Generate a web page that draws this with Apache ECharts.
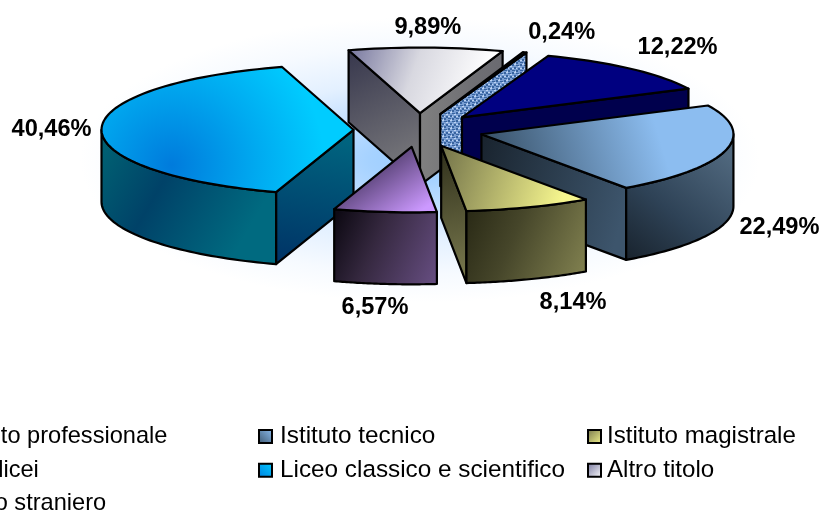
<!DOCTYPE html>
<html>
<head>
<meta charset="utf-8">
<style>html,body{margin:0;padding:0;background:#fff;overflow:hidden}#c{width:820px;height:510px}</style>
<script src="https://cdn.jsdelivr.net/npm/echarts@6/dist/echarts.min.js"></script>
</head>
<body>
<div id="c"></div>
<script>
// ---- data ----
var categories = ['Istituto professionale','Istituto tecnico','Istituto magistrale','Altri licei','Liceo classico e scientifico','Altro titolo','Titolo straniero'];
var values = [12.22, 22.49, 8.14, 6.57, 40.46, 9.89, 0.24];
var valueLabels = ['12,22%','22,49%','8,14%','6,57%','40,46%','9,89%','0,24%'];
var legendColumns = [[0,3,6],[1,4],[2,5]];
var paintOrder = [5,6,0,4,1,2,3];

// ---- pie geometry ----
var CX = 418.5, CY = 130, RX = 252, TILT = 0.26, EXPLODE = 65, DEPTH = 72, START = 20;
var RAD = Math.PI / 180;
var total = values.reduce(function (a, b) { return a + b; }, 0);
var grad = function (stops) {
  return stops.map(function (c, i) {
    return { offset: c[1] !== undefined ? c[1] : i / (stops.length - 1), color: c[0] };
  });
};
var LG = function (x0, y0, x1, y1, stops) { return new echarts.graphic.LinearGradient(x0, y0, x1, y1, grad(stops)); };
var RG = function (x, y, r, stops) { return new echarts.graphic.RadialGradient(x, y, r, grad(stops)); };
function makePattern() {
  var cv = document.createElement('canvas'); cv.width = 8; cv.height = 8;
  var g = cv.getContext('2d');
  g.fillStyle = '#7a9fd4'; g.fillRect(0, 0, 8, 8);
  g.fillStyle = '#38649f'; [[0,0,2,2],[4,1,3,1],[2,3,2,2],[6,4,2,2],[0,6,3,1],[4,6,2,2]].forEach(function (r) { g.fillRect(r[0], r[1], r[2], r[3]); });
  g.fillStyle = '#bcd3f2'; [[2,0,2,1],[6,2,2,1],[0,4,2,1],[4,4,1,1],[3,7,1,1]].forEach(function (r) { g.fillRect(r[0], r[1], r[2], r[3]); });
  return { image: cv, repeat: 'repeat' };
}
var patternFill = makePattern();

var sliceStyle = [
  { top: '#000080', cut: '#00004d', side: '#00004d', legend: '#000080', nudge: [47, -21] },
  { top: LG(0.1, 0.9, 0.7, 0.35, [['#3c566e'], ['#8cbdf0']]),
    cut: LG(0, 0.2, 1, 0.5, [['#1a2530'], ['#3d556c']]),
    side: LG(0, 1, 0.85, 0.1, [['#18222c'], ['#2e4256', .45], ['#50687e']]),
    legend: LG(0, 1, 1, 0, [['#3c566e'], ['#8cbdf0']]), nudge: [54, 77] },
  { top: LG(0, 0.1, 0.85, 0.7, [['#73734a'], ['#f6f68e']]),
    cut: LG(0, 0, 1, 1, [['#2e2e1a'], ['#7c7c50']]),
    side: LG(0, 0.2, 1, 0.8, [['#2a2a16'], ['#46462a', .4], ['#80804f']]),
    legend: LG(0, 0, 1, 1, [['#73734a'], ['#f6f68e']]), nudge: [44, 95] },
  { top: LG(0.35, 0, 0.8, 1, [['#33264a'], ['#cc99ff']]),
    cut: '#33264a',
    side: LG(0, 0.2, 1, 0.8, [['#0e0a14'], ['#35283f', .4], ['#644c7e']]),
    legend: LG(0, 0, 1, 1, [['#33264a'], ['#cc99ff']]), nudge: [-10, 96] },
  { top: RG(0.28, 0.78, 1.5, [['#007bdc'], ['#00aaf0', .45], ['#00ccff', .8], ['#00ccff']]),
    cut: LG(0.5, 0, 0.2, 1, [['#006680'], ['#003366']]),
    side: LG(0.1, 0, 0.9, 0.6, [['#005f72'], ['#004268', .4], ['#006a80']]),
    legend: LG(0, 1, 1, 0, [['#007fe0'], ['#00ccff']]), nudge: [-50, 1] },
  { top: LG(0, 0, 0.85, 0.7, [['#74749c'], ['#d8d8e0', .5], ['#ffffff']]),
    cut: LG(0, 0, 1, 1, [['#36364c'], ['#848484']]),
    cut2: LG(0, 0.5, 1, 0.5, [['#808080'], ['#707074', .6], ['#6a6a70']]),
    side: '#808080',
    legend: LG(0, 0, 1, 1, [['#74749c'], ['#ffffff']]), nudge: [2, -20] },
  { top: patternFill, cut: patternFill, side: patternFill, legend: '#7a9fd4', nudge: [37, -20] }
];

function startOf(i) {
  var s = 0; for (var k = 0; k < i; k++) s += values[k];
  return START + s / total * 360;
}
function pt(o, deg, r) {
  return [o[0] + r * Math.sin(deg * RAD), o[1] - r * Math.cos(deg * RAD) * TILT];
}
function poly(points, fill) {
  return { type: 'polygon', shape: { points: points }, style: { fill: fill, stroke: '#000', lineWidth: 2.2, lineJoin: 'round' } };
}
function down(p) { return [p[0], p[1] + DEPTH]; }

function renderSlice(i) {
  return function (params, api) {
    var v = api.value(0);
    var a0 = startOf(i), a1 = a0 + v / total * 360, mid = (a0 + a1) / 2;
    var o = pt([CX, CY], mid, EXPLODE);
    var st = sliceStyle[i], kids = [];
    // radial cut faces, only those turned towards the viewer
    if (Math.cos((a0 - 90) * RAD) < 0) {
      var e0 = pt(o, a0, RX);
      kids.push(poly([o, e0, down(e0), down(o)], st.cut));
    }
    if (Math.cos((a1 + 90) * RAD) < 0) {
      var e1 = pt(o, a1, RX);
      kids.push(poly([o, e1, down(e1), down(o)], st.cut2 || st.cut));
    }
    // outer wall: front half of the rim only
    var f0 = Math.max(a0, 90), f1 = Math.min(a1, 270);
    if (f1 > f0) {
      var up = [], lo = [];
      for (var t = 0; t <= 48; t++) {
        var p = pt(o, f0 + (f1 - f0) * t / 48, RX);
        up.push(p); lo.unshift(down(p));
      }
      kids.push(poly(up.concat(lo), st.side));
    }
    // top face
    var top = [o], n = Math.max(2, Math.ceil((a1 - a0) / 2));
    for (var q = 0; q <= n; q++) top.push(pt(o, a0 + (a1 - a0) * q / n, RX));
    kids.push(poly(top, st.top));
    // value label
    var anchor = pt(o, mid, RX);
    kids.push({
      type: 'text', z2: 50,
      style: { x: anchor[0] + st.nudge[0], y: anchor[1] + st.nudge[1], text: valueLabels[i], align: 'center', verticalAlign: 'middle',
        fill: '#000', font: 'bold 23.6px "Liberation Sans", Arial, sans-serif' }
    });
    return { type: 'group', children: kids };
  };
}

var series = paintOrder.map(function (i, order) {
  return {
    type: 'custom', name: categories[i], coordinateSystem: 'none', silent: true, animation: false,
    z: 2 + order, clip: false,
    data: [[values[i]]], renderItem: renderSlice(i),
    itemStyle: { color: '#000' }
  };
});

var legendFont = [23.6, 24.3, 24.1];
var legendTextGap = [3, 3, 1];
var legends = legendColumns.map(function (col, c) {
  return {
    orient: 'vertical', left: -71 + 329 * c, top: 423, height: 200, width: 400, itemWidth: 13, itemHeight: 13, itemGap: 6.7,
    selectedMode: false, icon: 'rect', padding: 0,
    textStyle: { color: '#000', fontSize: legendFont[c], fontFamily: '"Liberation Sans", Arial, sans-serif', padding: [0, 0, 3, legendTextGap[c]], lineHeight: 24 },
    data: col.map(function (i) {
      return { name: categories[i], icon: 'rect', itemStyle: { color: sliceStyle[i].legend, borderColor: '#000', borderWidth: 2 } };
    })
  };
});

var chart = echarts.init(document.getElementById('c'), null, { renderer: 'canvas' });
chart.setOption({
  animation: false,
  backgroundColor: '#fff',
  legend: legends,
  graphic: [{
    type: 'circle', z: -1, silent: true, x: 420, y: 160, scaleX: 1, scaleY: 0.42,
    shape: { cx: 0, cy: 0, r: 340 },
    style: { fill: RG(0.5, 0.5, 0.5, [['#9accff', 0], ['#a6d2ff', .15], ['#c4e0ff', .35], ['#e3f0ff', .55], ['#f6faff', .8], ['#ffffff', 1]]) }
  }],
  series: series
});
</script>
</body>
</html>
